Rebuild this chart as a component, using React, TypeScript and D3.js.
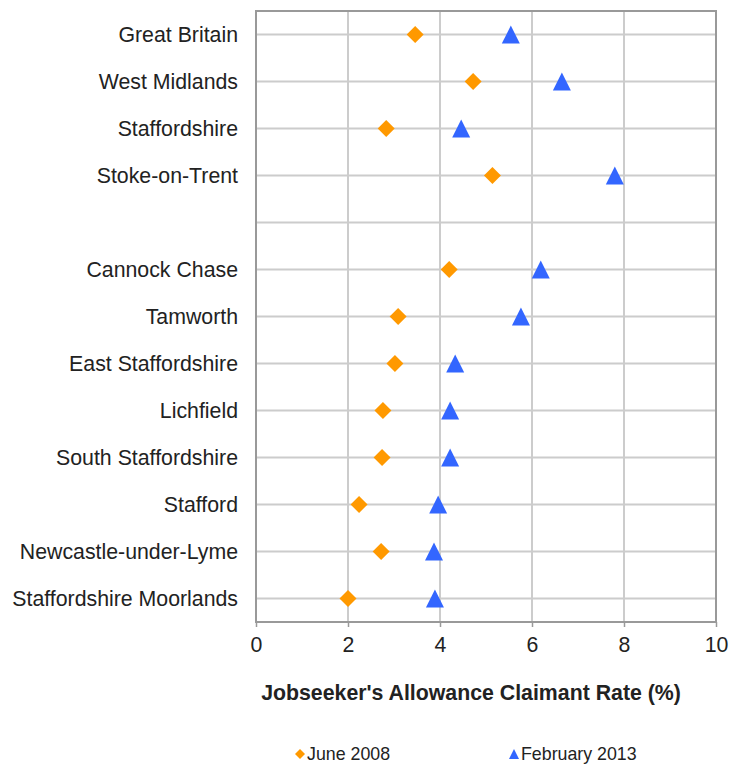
import * as d3 from "d3";
import React, { useRef, useEffect } from "react";

const categories = [
  "Great Britain",
  "West Midlands",
  "Staffordshire",
  "Stoke-on-Trent",
  "",
  "Cannock Chase",
  "Tamworth",
  "East Staffordshire",
  "Lichfield",
  "South Staffordshire",
  "Stafford",
  "Newcastle-under-Lyme",
  "Staffordshire Moorlands",
];

const june2008 = [3.46, 4.72, 2.83, 5.14, null, 4.2, 3.09, 3.02, 2.76, 2.74, 2.24, 2.72, 2.0];
const feb2013 = [5.54, 6.65, 4.46, 7.8, null, 6.19, 5.76, 4.33, 4.22, 4.22, 3.96, 3.87, 3.89];

const xTicks = [0, 2, 4, 6, 8, 10];

const width = 743;
const height = 764;
const margin = { top: 11, right: 27, bottom: 142, left: 256 };
const bodyWidth = width - margin.left - margin.right;
const bodyHeight = height - margin.top - margin.bottom;

const orange = "#FF9900";
const blue = "#3366FF";
const font = "'Liberation Sans', Arial, sans-serif";
const textColor = "#222";

// triangle whose width and height are both "size"
const squareTriangle = {
  draw(context: any, size: number) {
    const h = size / 2;
    context.moveTo(0, -h);
    context.lineTo(h, h);
    context.lineTo(-h, h);
    context.closePath();
  },
};
// diamond whose diagonal is "size"
const diamondType = {
  draw(context: any, size: number) {
    const h = size / 2;
    context.moveTo(0, -h);
    context.lineTo(h, 0);
    context.lineTo(0, h);
    context.lineTo(-h, 0);
    context.closePath();
  },
};

const App = () => {
  const ref = useRef<SVGSVGElement>(null);

  useEffect(() => {
    const svg = d3.select(ref.current);
    svg.selectAll("*").remove();

    const xScale = d3.scaleLinear().domain([0, 10]).range([0, bodyWidth]);
    const yScale = d3
      .scalePoint<number>()
      .domain(d3.range(categories.length))
      .range([0, bodyHeight])
      .padding(0.5);

    const main = svg
      .append("g")
      .attr("transform", `translate(${margin.left}, ${margin.top})`);

    // grid
    main
      .append("g")
      .selectAll("line")
      .data(xTicks.slice(1, -1))
      .join("line")
      .attr("x1", (d) => xScale(d))
      .attr("x2", (d) => xScale(d))
      .attr("y1", 0)
      .attr("y2", bodyHeight)
      .attr("stroke", "#cccccc")
      .attr("stroke-width", 2);

    main
      .append("g")
      .selectAll("line")
      .data(d3.range(categories.length))
      .join("line")
      .attr("x1", 0)
      .attr("x2", bodyWidth)
      .attr("y1", (d) => yScale(d)!)
      .attr("y2", (d) => yScale(d)!)
      .attr("stroke", "#cccccc")
      .attr("stroke-width", 2);

    // frame
    main
      .append("rect")
      .attr("width", bodyWidth)
      .attr("height", bodyHeight)
      .attr("fill", "none")
      .attr("stroke", "#999999")
      .attr("stroke-width", 2);

    // x axis
    const xAxis = main
      .append("g")
      .attr("transform", `translate(0, ${bodyHeight})`)
      .call(d3.axisBottom(xScale).tickValues(xTicks).tickSize(5).tickPadding(10));
    xAxis.select(".domain").remove();
    xAxis.selectAll(".tick line").attr("stroke", "#999999").attr("stroke-width", 1.5);
    xAxis
      .selectAll(".tick text")
      .attr("font-family", font)
      .attr("font-size", 21.3)
      .attr("fill", textColor);

    // category labels
    main
      .append("g")
      .selectAll("text")
      .data(categories)
      .join("text")
      .attr("x", -18)
      .attr("y", (_, i) => yScale(i)!)
      .attr("dy", "0.35em")
      .attr("text-anchor", "end")
      .attr("font-family", font)
      .attr("font-size", 21.3)
      .attr("fill", textColor)
      .text((d) => d);

    const diamond = d3.symbol().type(diamondType).size(17);
    const triangle = d3.symbol().type(squareTriangle).size(18);

    main
      .append("g")
      .selectAll("path")
      .data(june2008.map((v, i) => ({ v, i })).filter((d) => d.v != null))
      .join("path")
      .attr("d", diamond)
      .attr("transform", (d) => `translate(${xScale(d.v as number)}, ${yScale(d.i)})`)
      .attr("fill", orange);

    main
      .append("g")
      .selectAll("path")
      .data(feb2013.map((v, i) => ({ v, i })).filter((d) => d.v != null))
      .join("path")
      .attr("d", triangle)
      .attr("transform", (d) => `translate(${xScale(d.v as number)}, ${yScale(d.i)})`)
      .attr("fill", blue);

    // axis title
    svg
      .append("text")
      .attr("x", 471)
      .attr("y", 693)
      .attr("dy", "0.35em")
      .attr("text-anchor", "middle")
      .attr("font-family", font)
      .attr("font-size", 21.3)
      .attr("font-weight", "bold")
      .attr("fill", textColor)
      .text("Jobseeker's Allowance Claimant Rate (%)");

    // legend
    const legend = [
      { label: "June 2008", sym: d3.symbol().type(diamondType).size(10), color: orange, x: 300 },
      { label: "February 2013", sym: d3.symbol().type(squareTriangle).size(10), color: blue, x: 514 },
    ];
    const lg = svg
      .append("g")
      .selectAll("g")
      .data(legend)
      .join("g")
      .attr("transform", (d) => `translate(${d.x}, 754)`);
    lg.append("path")
      .attr("d", (d) => d.sym())
      .attr("fill", (d) => d.color);
    lg.append("text")
      .attr("x", 7)
      .attr("dy", "0.35em")
      .attr("font-family", font)
      .attr("font-size", 17.8)
      .attr("fill", textColor)
      .text((d) => d.label);
  }, []);

  return (
    <svg
      ref={ref}
      width={width}
      height={height}
      style={{ position: "absolute", left: 0, top: 0 }}
    ></svg>
  );
};

export default App;
